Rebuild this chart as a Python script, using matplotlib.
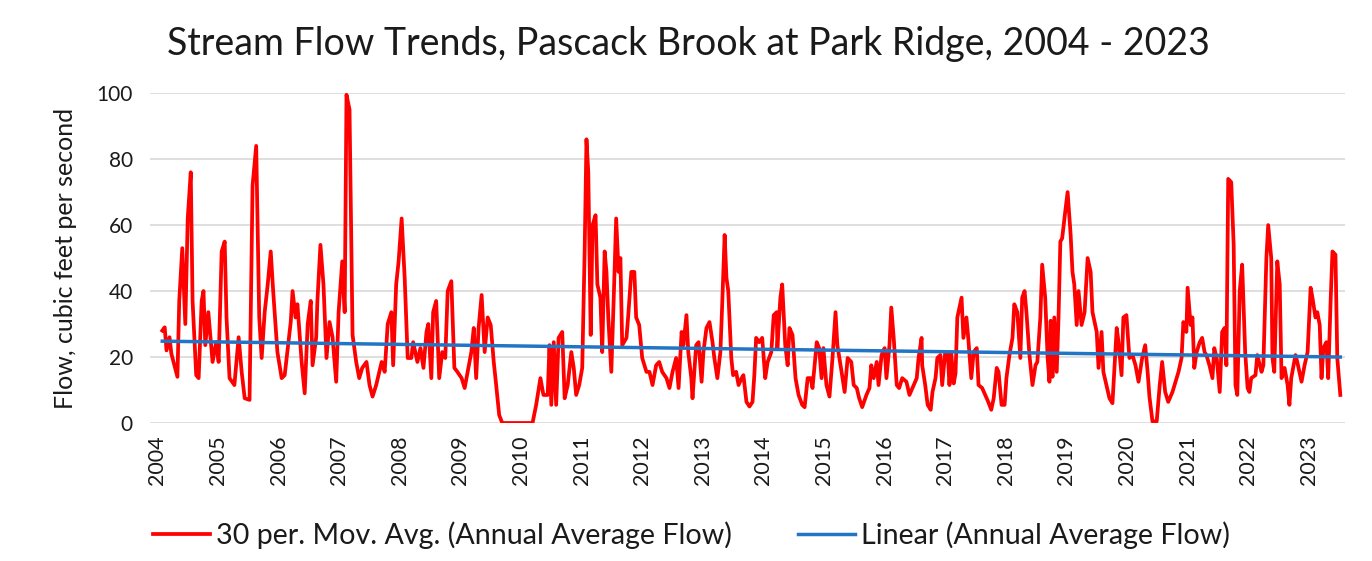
import matplotlib
matplotlib.use("Agg")
import matplotlib.pyplot as plt

# 30-period moving average of stream flow (cfs), sampled along the record
years = [
    2004.08, 2004.12, 2004.15, 2004.20, 2004.23, 2004.33, 2004.36, 2004.41, 2004.46, 2004.50,
    2004.55, 2004.58, 2004.64, 2004.68, 2004.73, 2004.76, 2004.79, 2004.84, 2004.91, 2004.97,
    2005.01, 2005.06, 2005.11, 2005.14, 2005.19, 2005.27, 2005.34, 2005.39, 2005.44, 2005.52,
    2005.57, 2005.63, 2005.68, 2005.72, 2005.77, 2005.82, 2005.87, 2005.91, 2005.98, 2006.05,
    2006.10, 2006.15, 2006.20, 2006.23, 2006.28, 2006.31, 2006.38, 2006.43, 2006.48, 2006.53,
    2006.56, 2006.62, 2006.64, 2006.69, 2006.74, 2006.79, 2006.84, 2006.89, 2006.95, 2006.99,
    2007.05, 2007.09, 2007.12, 2007.17, 2007.22, 2007.28, 2007.33, 2007.38, 2007.45, 2007.50,
    2007.55, 2007.61, 2007.70, 2007.75, 2007.80, 2007.86, 2007.89, 2007.94, 2007.98, 2008.03,
    2008.08, 2008.13, 2008.19, 2008.22, 2008.29, 2008.34, 2008.39, 2008.44, 2008.47, 2008.52,
    2008.55, 2008.60, 2008.65, 2008.70, 2008.75, 2008.79, 2008.85, 2008.90, 2008.95, 2009.02,
    2009.07, 2009.12, 2009.18, 2009.22, 2009.26, 2009.30, 2009.35, 2009.40, 2009.45, 2009.50,
    2009.55, 2009.59, 2009.64, 2009.69, 2010.19, 2010.25, 2010.32, 2010.37, 2010.44, 2010.47,
    2010.50, 2010.54, 2010.58, 2010.62, 2010.68, 2010.72, 2010.77, 2010.83, 2010.87, 2010.91,
    2010.96, 2011.01, 2011.05, 2011.08, 2011.11, 2011.15, 2011.18, 2011.23, 2011.26, 2011.31,
    2011.34, 2011.38, 2011.41, 2011.44, 2011.49, 2011.53, 2011.57, 2011.61, 2011.64, 2011.67,
    2011.74, 2011.77, 2011.82, 2011.87, 2011.90, 2011.95, 2012.00, 2012.07, 2012.12, 2012.17,
    2012.23, 2012.28, 2012.33, 2012.40, 2012.45, 2012.50, 2012.56, 2012.60, 2012.65, 2012.68,
    2012.73, 2012.76, 2012.81, 2012.83, 2012.89, 2012.93, 2012.98, 2013.01, 2013.06, 2013.11,
    2013.16, 2013.19, 2013.24, 2013.29, 2013.32, 2013.36, 2013.39, 2013.42, 2013.47, 2013.50,
    2013.55, 2013.59, 2013.64, 2013.67, 2013.72, 2013.77, 2013.82, 2013.85, 2013.88, 2013.93,
    2013.98, 2014.03, 2014.07, 2014.13, 2014.17, 2014.22, 2014.23, 2014.28, 2014.31, 2014.36,
    2014.40, 2014.43, 2014.48, 2014.53, 2014.58, 2014.64, 2014.68, 2014.73, 2014.78, 2014.81,
    2014.88, 2014.92, 2014.96, 2014.99, 2015.04, 2015.09, 2015.14, 2015.19, 2015.22, 2015.29,
    2015.34, 2015.39, 2015.45, 2015.49, 2015.54, 2015.58, 2015.63, 2015.70, 2015.75, 2015.78,
    2015.82, 2015.87, 2015.90, 2015.95, 2016.00, 2016.03, 2016.08, 2016.11, 2016.15, 2016.20,
    2016.24, 2016.29, 2016.36, 2016.41, 2016.46, 2016.53, 2016.56, 2016.61, 2016.62, 2016.67,
    2016.71, 2016.76, 2016.79, 2016.84, 2016.87, 2016.92, 2016.95, 2017.00, 2017.04, 2017.07,
    2017.10, 2017.14, 2017.17, 2017.20, 2017.27, 2017.30, 2017.35, 2017.38, 2017.43, 2017.47,
    2017.52, 2017.55, 2017.61, 2017.66, 2017.71, 2017.76, 2017.80, 2017.85, 2017.88, 2017.93,
    2017.98, 2018.01, 2018.06, 2018.11, 2018.14, 2018.19, 2018.24, 2018.27, 2018.31, 2018.34,
    2018.39, 2018.44, 2018.49, 2018.52, 2018.57, 2018.60, 2018.65, 2018.69, 2018.72, 2018.74,
    2018.77, 2018.80, 2018.84, 2018.87, 2018.90, 2018.93, 2018.98, 2019.02, 2019.07, 2019.10,
    2019.13, 2019.17, 2019.20, 2019.25, 2019.30, 2019.35, 2019.40, 2019.43, 2019.50, 2019.53,
    2019.58, 2019.61, 2019.66, 2019.71, 2019.76, 2019.83, 2019.86, 2019.91, 2019.94, 2019.99,
    2020.04, 2020.09, 2020.14, 2020.19, 2020.25, 2020.30, 2020.34, 2020.37, 2020.42, 2020.49,
    2020.54, 2020.58, 2020.63, 2020.68, 2020.75, 2020.80, 2020.85, 2020.90, 2020.93, 2020.98,
    2021.00, 2021.05, 2021.08, 2021.11, 2021.15, 2021.20, 2021.24, 2021.28, 2021.31, 2021.36,
    2021.41, 2021.44, 2021.48, 2021.53, 2021.57, 2021.61, 2021.64, 2021.67, 2021.72, 2021.76,
    2021.79, 2021.82, 2021.86, 2021.90, 2021.95, 2021.99, 2022.02, 2022.05, 2022.12, 2022.15,
    2022.22, 2022.25, 2022.30, 2022.33, 2022.38, 2022.40, 2022.43, 2022.48, 2022.52, 2022.55,
    2022.60, 2022.65, 2022.68, 2022.71, 2022.78, 2022.81, 2022.88, 2022.93, 2022.98, 2023.03,
    2023.06, 2023.11, 2023.14, 2023.18, 2023.21, 2023.24, 2023.29, 2023.32, 2023.36, 2023.39,
    2023.44, 2023.47, 2023.52,
]
flow = [
    28, 29, 22, 26, 21, 14, 37, 53, 30, 62,
    76, 37, 14.5, 13.6, 37, 40, 23.6, 33.6, 18.5, 24.5,
    18.5, 52, 55, 32, 13.6, 11.5, 26, 15.5, 7.5, 7,
    72, 84, 32, 19.7, 33.6, 42, 52, 40, 21.5, 13.6,
    14.5, 22.7, 30.6, 40, 32, 36, 18.5, 9, 30, 37,
    17.5, 26, 37, 54, 42, 19.7, 30.6, 26, 12.5, 33.6,
    49, 33.6, 99.5, 95, 26.7, 18.5, 13.6, 16.7, 18.5, 11.5,
    8, 11.5, 18.5, 15.5, 30, 33.6, 17.5, 42, 49, 62,
    44, 19.7, 19.7, 24.5, 18.5, 22.7, 16.7, 27.6, 30, 13.6,
    33.6, 37, 13.6, 21.5, 19.7, 40, 43, 16.7, 15.5, 13.6,
    10.6, 15.5, 21.5, 28.8, 13.6, 28.8, 38.8, 21.5, 32, 29.7,
    18.5, 11.5, 2.4, 0, 0, 5.5, 13.6, 8.5, 8.5, 23.6,
    5.5, 24.5, 5.5, 25.8, 27.6, 7.5, 11.5, 21.5, 16.7, 8.5,
    11.5, 16.7, 52, 86, 76, 26.7, 60, 63, 42, 38,
    21.5, 52, 45.8, 32, 15.5, 38, 62, 45.8, 50, 23.6,
    25.8, 32.7, 45.8, 45.8, 32, 29.7, 19.7, 15.5, 15.5, 11.5,
    17.5, 18.5, 15.5, 13.6, 10.6, 15.5, 19.7, 10.6, 27.6, 23.6,
    32.7, 21.5, 13.6, 7.5, 23.6, 24.5, 12.5, 21.5, 28.8, 30.6,
    24.5, 19.7, 13.6, 21.5, 36, 57, 44, 40, 19.7, 14.5,
    15.5, 11.5, 13.6, 14.5, 6.4, 5, 6.4, 14.5, 25.8, 24.5,
    25.8, 13.6, 18.5, 21.5, 32.7, 33.6, 22.7, 38, 42, 23.6,
    17.5, 28.8, 26.7, 13.6, 8.5, 5.5, 4.8, 13.6, 13.6, 10.6,
    24.5, 22.7, 13.6, 22.7, 11.5, 8, 19.7, 33.6, 23.6, 15.5,
    9.4, 19.7, 18.5, 11.5, 10.6, 7.5, 4.8, 8.5, 10.6, 17.5,
    13.6, 18.5, 11.5, 20.6, 22.7, 13.6, 23.6, 35, 25.8, 11.5,
    10.6, 13.6, 12.5, 8.5, 10.6, 13.6, 19.7, 25.8, 17.5, 11.5,
    5.5, 4, 9.4, 13.6, 19.7, 20.6, 11.5, 21.5, 21.5, 11.5,
    21, 12, 15, 32, 38, 25.8, 32, 25.8, 13.6, 21.5,
    22.7, 11.5, 10.6, 8.5, 6.4, 4, 7.5, 16.7, 15.5, 5.5,
    5.5, 13.6, 20.6, 25.8, 36, 33.6, 19.7, 38, 40, 33.6,
    20.6, 11.5, 17.5, 18.5, 32, 48, 38, 19.7, 12.5, 31,
    14, 32, 15.5, 32, 55, 56, 64, 70, 57, 45.8,
    42, 29.7, 40, 29.7, 33.6, 50, 45.8, 33.6, 27.6, 16.7,
    27.6, 15.5, 11.5, 7.5, 6, 28.8, 24.5, 14.5, 32, 32.7,
    19.7, 20.6, 17.5, 12.5, 19.7, 23.6, 15.5, 8, 0.5, 0.5,
    11.5, 18.5, 9.4, 6.4, 9.4, 12.5, 15.5, 19.7, 30.6, 27.6,
    41, 29.7, 32, 16.7, 21.5, 24.5, 25.8, 21.5, 20.6, 17.5,
    13.6, 22.7, 19.7, 9.4, 27.6, 28.8, 17.5, 74, 73, 54,
    11.5, 8.5, 40, 48, 21.5, 10.6, 9.4, 13.6, 14.5, 20.6,
    15.5, 17.5, 50, 60, 50, 19.7, 15.5, 49, 42, 13.6,
    16.7, 11.5, 5.5, 13.6, 20.6, 18.5, 12.5, 17.5, 21.5, 41,
    38, 32, 33.6, 29.7, 13.6, 22.7, 24.5, 13.6, 37, 52,
    51, 19.7, 8.5,
]
assert len(years) == len(flow)

# Linear trend of the annual average flow (value at first and last sample)
trend_years = [2004.08, 2023.52]
trend_flow = [24.8, 20.0]

year_ticks = list(range(2004, 2024))
y_ticks = [0, 20, 40, 60, 80, 100]

title = "Stream Flow Trends, Pascack Brook at Park Ridge, 2004 - 2023"
y_label = "Flow, cubic feet per second"
series_label = "30 per. Mov. Avg. (Annual Average Flow)"
trend_label = "Linear (Annual Average Flow)"

RED = "#ff0000"
BLUE = "#2274c4"
GRID = "#d9d9d9"
TEXT = "#1a1a1a"

plt.rcParams["font.family"] = ["Lato", "DejaVu Sans"]

fig = plt.figure(figsize=(13.72, 5.61), dpi=100)
ax = fig.add_axes([0.109, 0.246, 0.871, 0.588])

ax.plot(years, flow, color=RED, lw=2.7, solid_joinstyle="round", zorder=3,
        label=series_label)
ax.plot(trend_years, trend_flow, color=BLUE, lw=2.5, zorder=4, label=trend_label)

ax.set_ylim(0, 100)
ax.set_xlim(2003.87, 2023.59)
ax.set_yticks(y_ticks)
ax.set_xticks(year_ticks)
ax.set_xticklabels([str(y) for y in year_ticks], rotation=90)
ax.tick_params(axis="x", length=0, labelsize=15.5, colors=TEXT, pad=9)
ax.tick_params(axis="y", length=0, labelsize=15, colors=TEXT, pad=12)
ax.grid(axis="y", color=GRID, lw=1.2)
ax.set_axisbelow(True)
for s in ax.spines.values():
    s.set_visible(False)

ax.set_ylabel(y_label, fontsize=18, color=TEXT, labelpad=14)
fig.text(0.502, 1 - 55 / 561, title, fontsize=27, color=TEXT,
         ha="center", va="baseline")

fig.legend(loc="center", bbox_to_anchor=(0.504, 0.046), ncol=2, frameon=False,
           fontsize=20.6, handlelength=2.0, handletextpad=0.2, columnspacing=2.3,
           labelcolor=TEXT)

fig.savefig("out.png", dpi=100, facecolor="white")
